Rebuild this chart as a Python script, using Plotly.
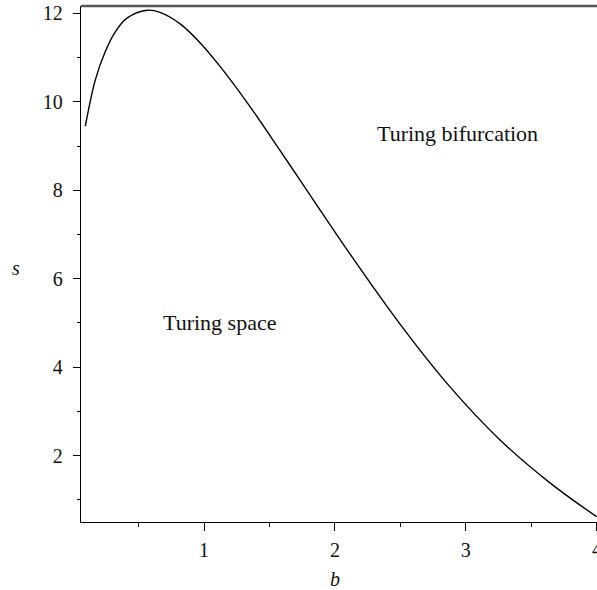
import plotly.graph_objects as go

# Data (curve separating the two regions)
b_vals = [0.092, 0.168, 0.244, 0.321, 0.410, 0.563, 0.664, 0.817, 0.970, 1.122,
          1.351, 1.580, 1.733, 2.115, 2.496, 2.878, 3.260, 3.641, 4.000]
s_vals = [9.45, 10.49, 11.13, 11.58, 11.89, 12.07, 12.02, 11.76, 11.33, 10.80,
          9.89, 8.90, 8.23, 6.56, 4.98, 3.56, 2.36, 1.39, 0.62]

x_ticks = [1, 2, 3, 4]
x_tick_text = ["1", "2", "3", "4"]
y_ticks = [2, 4, 6, 8, 10, 12]

region_labels = ["Turing bifurcation", "Turing space"]
region_b = [2.935, 1.117]
region_s = [9.29, 5.02]

FONT = "Liberation Serif"

fig = go.Figure()
fig.add_trace(go.Scatter(x=b_vals, y=s_vals, mode="lines",
                         line=dict(color="black", width=1.4, shape="spline", smoothing=1.0),
                         showlegend=False, hoverinfo="skip", cliponaxis=False))

for t, bx, sy in zip(region_labels, region_b, region_s):
    fig.add_annotation(x=bx, y=sy, xref="x", yref="y", text=t, showarrow=False,
                       font=dict(family=FONT, size=22, color="#111"))

# last x tick label sits at the very edge of the page (half clipped in the reference)
fig.add_annotation(x=x_ticks[-1], y=0, xref="x", yref="paper", text=x_tick_text[-1],
                   showarrow=False, yanchor="middle", yshift=-27,
                   font=dict(family=FONT, size=20, color="#111"))

# axis titles
fig.add_annotation(x=2, y=0, xref="x", yref="paper", text="<i>b</i>", showarrow=False,
                   yshift=-70, font=dict(family=FONT, size=20, color="#111"))
fig.add_annotation(x=0, y=6.24, xref="paper", yref="y", text="<i>s</i>", showarrow=False,
                   xshift=-71, font=dict(family=FONT, size=20, color="#111"))

# top frame line
fig.add_shape(type="line", xref="paper", yref="paper", x0=0, x1=1, y0=1, y1=1,
              line=dict(color="#555", width=2.5))

fig.update_xaxes(range=[0.059, 4.003], tickvals=x_ticks,
                 ticktext=x_tick_text[:-1] + [""], ticks="outside", ticklen=8,
                 tickwidth=1.3, tickcolor="black", showline=True, linecolor="black",
                 linewidth=1.3, showgrid=False, zeroline=False,
                 tickfont=dict(family=FONT, size=20, color="#111"),
                 minor=dict(tickvals=[0.5, 1.5, 2.5, 3.5], ticks="outside", ticklen=4,
                            tickwidth=1.3, tickcolor="black", showgrid=False),
                 ticklabelstandoff=2)
fig.update_yaxes(range=[0.5, 12.165], tickvals=y_ticks, ticks="outside", ticklen=7,
                 tickwidth=1.3, tickcolor="black", showline=True, linecolor="black",
                 linewidth=1.3, showgrid=False, zeroline=False,
                 tickfont=dict(family=FONT, size=20, color="#111"),
                 minor=dict(tickvals=[1, 3, 5, 7, 9, 11], ticks="outside", ticklen=3,
                            tickwidth=1.3, tickcolor="black", showgrid=False),
                 ticklabelstandoff=6)

fig.update_layout(width=597, height=590, plot_bgcolor="white", paper_bgcolor="white",
                  margin=dict(l=81, r=0, t=6, b=68), showlegend=False)

fig.write_html("out.html")
